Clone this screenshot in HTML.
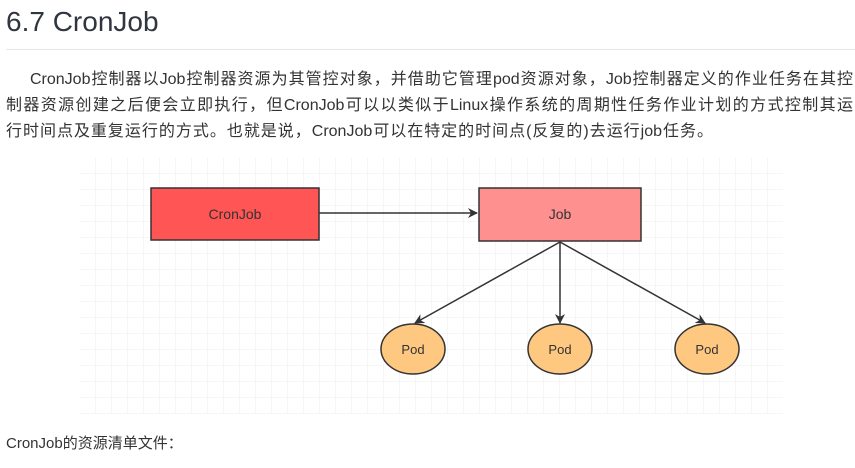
<!DOCTYPE html>
<html><head><meta charset="utf-8"><style>
body{margin:0;width:855px;height:468px;background:#fff;overflow:hidden;position:relative;font-family:"Liberation Sans","Noto Sans CJK SC",sans-serif;color:#333}
h1{position:absolute;left:6px;top:2px;margin:0;font-size:28px;font-weight:normal;color:#2f3640;line-height:40px}
.hr{position:absolute;left:6px;top:49px;width:849px;height:1px;background:#e6e6e6}
.l{position:absolute;font-size:16px;line-height:26px;color:#333;white-space:nowrap;text-align:justify;text-align-last:justify}
.foot{position:absolute;left:6px;top:432px;font-size:15px;color:#333}
svg{position:absolute;left:0;top:0}
</style></head><body>
<h1>6.7 CronJob</h1>
<div class="hr"></div>
<div class="l" style="left:30px;top:67px;width:823px">CronJob控制器以Job控制器资源为其管控对象，并借助它管理pod资源对象，Job控制器定义的作业任务在其控</div>
<div class="l" style="left:6px;top:93px;width:847px">制器资源创建之后便会立即执行，但CronJob可以以类似于Linux操作系统的周期性任务作业计划的方式控制其运</div>
<div class="l" style="left:6px;top:119px;width:707px">行时间点及重复运行的方式。也就是说，CronJob可以在特定的时间点(反复的)去运行job任务。</div>
<svg width="855" height="468">
<defs>
<pattern id="g" x="80" y="158" width="16" height="16" patternUnits="userSpaceOnUse">
<path d="M16 0V16M0 16H16" stroke="#ececec" stroke-width="1" fill="none"/>
</pattern>
<marker id="a" markerWidth="10" markerHeight="10" refX="9" refY="5" orient="auto" markerUnits="userSpaceOnUse"><path d="M0 0L10 5L0 10L3 5Z" fill="#333"/></marker>
</defs>
<rect x="80" y="158" width="703" height="256" fill="url(#g)"/>
<rect x="151" y="188" width="168" height="52" fill="#ff5555" stroke="#333" stroke-width="1.5"/>
<text x="235" y="219" text-anchor="middle" font-size="14" fill="#333" font-family="Liberation Sans,sans-serif">CronJob</text>
<rect x="479" y="188" width="162" height="53" fill="#ff9090" stroke="#333" stroke-width="1.5"/>
<text x="560" y="219" text-anchor="middle" font-size="14" fill="#333" font-family="Liberation Sans,sans-serif">Job</text>
<line x1="319" y1="213" x2="477" y2="213" stroke="#333" stroke-width="1.5" marker-end="url(#a)"/>
<line x1="560" y1="242" x2="415" y2="323" stroke="#333" stroke-width="1.5" marker-end="url(#a)"/>
<line x1="560" y1="242" x2="560" y2="323" stroke="#333" stroke-width="1.5" marker-end="url(#a)"/>
<line x1="560" y1="242" x2="705" y2="323" stroke="#333" stroke-width="1.5" marker-end="url(#a)"/>
<g fill="#ffc880" stroke="#333" stroke-width="1.5">
<ellipse cx="413" cy="349" rx="32" ry="25"/>
<ellipse cx="560" cy="349" rx="32" ry="25"/>
<ellipse cx="707" cy="349" rx="32" ry="25"/>
</g>
<g font-size="13" fill="#333" text-anchor="middle" font-family="Liberation Sans,sans-serif">
<text x="413" y="354">Pod</text><text x="560" y="354">Pod</text><text x="707" y="354">Pod</text>
</g>
</svg>
<div class="foot">CronJob的资源清单文件：</div>
</body></html>
